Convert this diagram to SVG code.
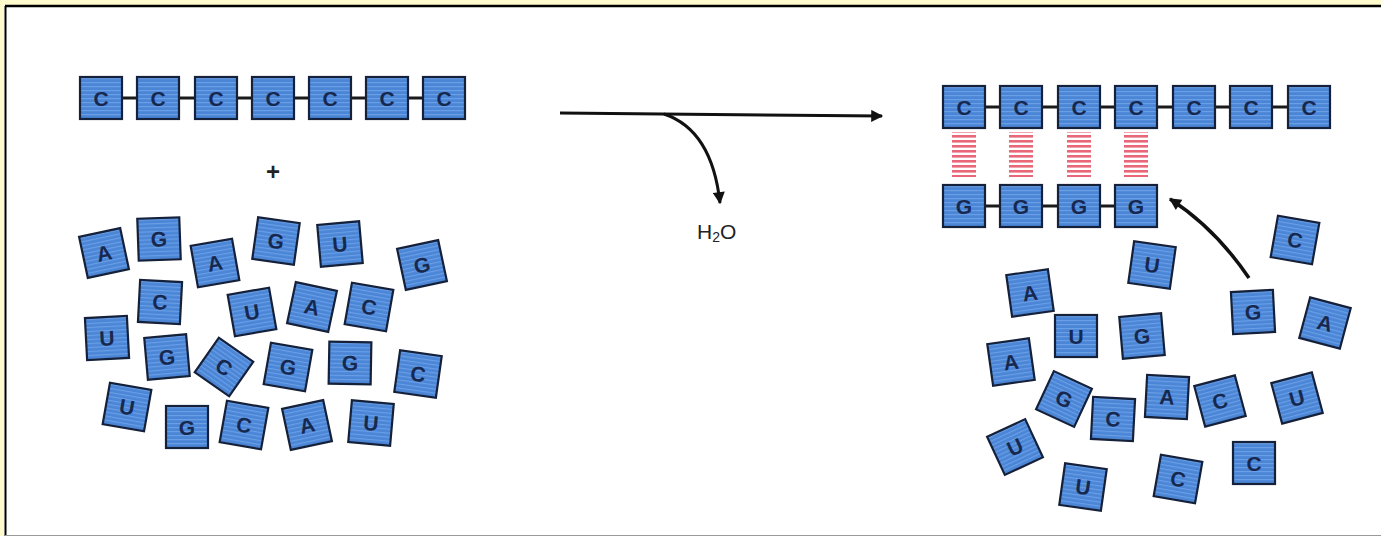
<svg xmlns="http://www.w3.org/2000/svg" width="1381" height="536" viewBox="0 0 1381 536">
<defs>
<pattern id="stripes" width="6" height="4" patternUnits="userSpaceOnUse">
<rect width="6" height="4" fill="#4a85d6"/>
<rect y="0" width="6" height="1.2" fill="#6a9fe6"/>
</pattern>
<pattern id="hb" width="24" height="5" patternUnits="userSpaceOnUse">
<rect width="24" height="5" fill="#ffffff"/>
<rect y="0" width="24" height="2.6" fill="#e8687a"/>
</pattern>
<marker id="ah2" viewBox="0 0 10 10" refX="9" refY="5" markerWidth="14" markerHeight="12" orient="auto" markerUnits="userSpaceOnUse">
<path d="M0,0 L10,5 L0,10 z" fill="#111"/>
</marker>
</defs>
<style>
.nt rect{fill:url(#stripes);stroke:#15213a;stroke-width:2.2}
.nt text{font-family:"Liberation Sans",Arial,sans-serif;font-weight:bold;font-size:21px;fill:#17284f;text-anchor:middle;dominant-baseline:central}
.bb{stroke:#1a1a1a;stroke-width:3}
.lbl{font-family:"Liberation Sans",Arial,sans-serif;fill:#222}
</style>
<rect width="1381" height="536" fill="#ffffff"/>
<rect x="0" y="0" width="1381" height="5" fill="#fffbcc"/>
<rect x="0" y="0" width="4" height="536" fill="#fffbcc"/>
<line x1="5" y1="6" x2="1381" y2="6" stroke="#000" stroke-width="2.5"/>
<line x1="5.5" y1="6" x2="5.5" y2="536" stroke="#000" stroke-width="2"/>
<line x1="5" y1="535.5" x2="1381" y2="535.5" stroke="#999" stroke-width="1"/>

<g id="connectors">
<line class="bb" x1="100" y1="98" x2="445" y2="98"/>
<line class="bb" x1="964" y1="107" x2="1309" y2="107"/>
<line class="bb" x1="964" y1="206" x2="1135" y2="206"/>
<rect x="952" y="132" width="24" height="45" fill="url(#hb)"/>
<rect x="1009" y="132" width="24" height="45" fill="url(#hb)"/>
<rect x="1067" y="132" width="24" height="45" fill="url(#hb)"/>
<rect x="1124" y="132" width="24" height="45" fill="url(#hb)"/>
<path d="M560,113 L882,116" fill="none" stroke="#111" stroke-width="3" marker-end="url(#ah2)"/>
<path d="M664,114 Q712,130 720,203" fill="none" stroke="#111" stroke-width="3" marker-end="url(#ah2)"/>
<path d="M1249,278 Q1215,228 1170,199" fill="none" stroke="#111" stroke-width="3.5" marker-end="url(#ah2)"/>
</g>

<text class="lbl" x="273" y="180" text-anchor="middle" font-size="24" font-weight="bold">+</text>
<text class="lbl" x="697" y="239" font-size="21">H<tspan font-size="14" dy="3">2</tspan><tspan dy="-3">O</tspan></text>

<g id="chain-left">
<g id="cl1" class="nt" transform="translate(101,98)"><rect x="-21" y="-21" width="42" height="42"/><text>C</text></g>
<g id="cl2" class="nt" transform="translate(158,98)"><rect x="-21" y="-21" width="42" height="42"/><text>C</text></g>
<g id="cl3" class="nt" transform="translate(216,98)"><rect x="-21" y="-21" width="42" height="42"/><text>C</text></g>
<g id="cl4" class="nt" transform="translate(273,98)"><rect x="-21" y="-21" width="42" height="42"/><text>C</text></g>
<g id="cl5" class="nt" transform="translate(330,98)"><rect x="-21" y="-21" width="42" height="42"/><text>C</text></g>
<g id="cl6" class="nt" transform="translate(387,98)"><rect x="-21" y="-21" width="42" height="42"/><text>C</text></g>
<g id="cl7" class="nt" transform="translate(444,98)"><rect x="-21" y="-21" width="42" height="42"/><text>C</text></g>
</g>

<g id="free-left">
<g id="fl1" class="nt" transform="translate(104,253) rotate(-12)"><rect x="-21" y="-21" width="42" height="42"/><text>A</text></g>
<g id="fl2" class="nt" transform="translate(159,239) rotate(-2)"><rect x="-21" y="-21" width="42" height="42"/><text>G</text></g>
<g id="fl3" class="nt" transform="translate(215,263) rotate(-10)"><rect x="-21" y="-21" width="42" height="42"/><text>A</text></g>
<g id="fl4" class="nt" transform="translate(276,241) rotate(8)"><rect x="-21" y="-21" width="42" height="42"/><text>G</text></g>
<g id="fl5" class="nt" transform="translate(340,244) rotate(-5)"><rect x="-21" y="-21" width="42" height="42"/><text>U</text></g>
<g id="fl6" class="nt" transform="translate(422,265) rotate(-12)"><rect x="-21" y="-21" width="42" height="42"/><text>G</text></g>
<g id="fl7" class="nt" transform="translate(160,302) rotate(3)"><rect x="-21" y="-21" width="42" height="42"/><text>C</text></g>
<g id="fl8" class="nt" transform="translate(252,312) rotate(-10)"><rect x="-21" y="-21" width="42" height="42"/><text>U</text></g>
<g id="fl9" class="nt" transform="translate(312,307) rotate(12)"><rect x="-21" y="-21" width="42" height="42"/><text>A</text></g>
<g id="fl10" class="nt" transform="translate(369,307) rotate(10)"><rect x="-21" y="-21" width="42" height="42"/><text>C</text></g>
<g id="fl11" class="nt" transform="translate(107,338) rotate(-3)"><rect x="-21" y="-21" width="42" height="42"/><text>U</text></g>
<g id="fl12" class="nt" transform="translate(167,357) rotate(-5)"><rect x="-21" y="-21" width="42" height="42"/><text>G</text></g>
<g id="fl13" class="nt" transform="translate(224,367) rotate(35)"><rect x="-21" y="-21" width="42" height="42"/><text>C</text></g>
<g id="fl14" class="nt" transform="translate(288,367) rotate(10)"><rect x="-21" y="-21" width="42" height="42"/><text>G</text></g>
<g id="fl15" class="nt" transform="translate(350,363) rotate(1)"><rect x="-21" y="-21" width="42" height="42"/><text>G</text></g>
<g id="fl16" class="nt" transform="translate(418,374) rotate(8)"><rect x="-21" y="-21" width="42" height="42"/><text>C</text></g>
<g id="fl17" class="nt" transform="translate(127,407) rotate(10)"><rect x="-21" y="-21" width="42" height="42"/><text>U</text></g>
<g id="fl18" class="nt" transform="translate(187,427) rotate(0)"><rect x="-21" y="-21" width="42" height="42"/><text>G</text></g>
<g id="fl19" class="nt" transform="translate(244,425) rotate(10)"><rect x="-21" y="-21" width="42" height="42"/><text>C</text></g>
<g id="fl20" class="nt" transform="translate(307,425) rotate(-12)"><rect x="-21" y="-21" width="42" height="42"/><text>A</text></g>
<g id="fl21" class="nt" transform="translate(371,423) rotate(5)"><rect x="-21" y="-21" width="42" height="42"/><text>U</text></g>
</g>

<g id="chain-right">
<g id="cr1" class="nt" transform="translate(964,107)"><rect x="-21" y="-21" width="42" height="42"/><text>C</text></g>
<g id="cr2" class="nt" transform="translate(1021,107)"><rect x="-21" y="-21" width="42" height="42"/><text>C</text></g>
<g id="cr3" class="nt" transform="translate(1079,107)"><rect x="-21" y="-21" width="42" height="42"/><text>C</text></g>
<g id="cr4" class="nt" transform="translate(1136,107)"><rect x="-21" y="-21" width="42" height="42"/><text>C</text></g>
<g id="cr5" class="nt" transform="translate(1194,107)"><rect x="-21" y="-21" width="42" height="42"/><text>C</text></g>
<g id="cr6" class="nt" transform="translate(1251,107)"><rect x="-21" y="-21" width="42" height="42"/><text>C</text></g>
<g id="cr7" class="nt" transform="translate(1309,107)"><rect x="-21" y="-21" width="42" height="42"/><text>C</text></g>
</g>

<g id="chain-g">
<g id="cg1" class="nt" transform="translate(964,206)"><rect x="-21" y="-21" width="42" height="42"/><text>G</text></g>
<g id="cg2" class="nt" transform="translate(1021,206)"><rect x="-21" y="-21" width="42" height="42"/><text>G</text></g>
<g id="cg3" class="nt" transform="translate(1079,206)"><rect x="-21" y="-21" width="42" height="42"/><text>G</text></g>
<g id="cg4" class="nt" transform="translate(1136,206)"><rect x="-21" y="-21" width="42" height="42"/><text>G</text></g>
</g>

<g id="free-right">
<g id="fr1" class="nt" transform="translate(1295,240) rotate(10)"><rect x="-21" y="-21" width="42" height="42"/><text>C</text></g>
<g id="fr2" class="nt" transform="translate(1152,265) rotate(8)"><rect x="-21" y="-21" width="42" height="42"/><text>U</text></g>
<g id="fr3" class="nt" transform="translate(1030,293) rotate(-8)"><rect x="-21" y="-21" width="42" height="42"/><text>A</text></g>
<g id="fr4" class="nt" transform="translate(1253,312) rotate(-3)"><rect x="-21" y="-21" width="42" height="42"/><text>G</text></g>
<g id="fr5" class="nt" transform="translate(1325,323) rotate(15)"><rect x="-21" y="-21" width="42" height="42"/><text>A</text></g>
<g id="fr6" class="nt" transform="translate(1076,336) rotate(0)"><rect x="-21" y="-21" width="42" height="42"/><text>U</text></g>
<g id="fr7" class="nt" transform="translate(1142,336) rotate(-5)"><rect x="-21" y="-21" width="42" height="42"/><text>G</text></g>
<g id="fr8" class="nt" transform="translate(1011,362) rotate(-8)"><rect x="-21" y="-21" width="42" height="42"/><text>A</text></g>
<g id="fr9" class="nt" transform="translate(1064,399) rotate(25)"><rect x="-21" y="-21" width="42" height="42"/><text>G</text></g>
<g id="fr10" class="nt" transform="translate(1113,419) rotate(3)"><rect x="-21" y="-21" width="42" height="42"/><text>C</text></g>
<g id="fr11" class="nt" transform="translate(1167,397) rotate(3)"><rect x="-21" y="-21" width="42" height="42"/><text>A</text></g>
<g id="fr12" class="nt" transform="translate(1220,401) rotate(-15)"><rect x="-21" y="-21" width="42" height="42"/><text>C</text></g>
<g id="fr13" class="nt" transform="translate(1297,398) rotate(-15)"><rect x="-21" y="-21" width="42" height="42"/><text>U</text></g>
<g id="fr14" class="nt" transform="translate(1015,447) rotate(-25)"><rect x="-21" y="-21" width="42" height="42"/><text>U</text></g>
<g id="fr15" class="nt" transform="translate(1083,487) rotate(8)"><rect x="-21" y="-21" width="42" height="42"/><text>U</text></g>
<g id="fr16" class="nt" transform="translate(1178,479) rotate(10)"><rect x="-21" y="-21" width="42" height="42"/><text>C</text></g>
<g id="fr17" class="nt" transform="translate(1254,463) rotate(0)"><rect x="-21" y="-21" width="42" height="42"/><text>C</text></g>
</g>
</svg>
